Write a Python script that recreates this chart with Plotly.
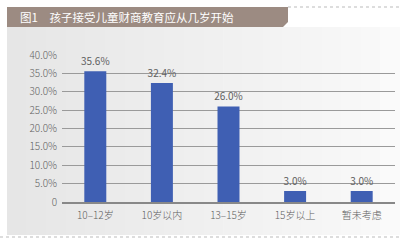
import plotly.graph_objects as go

categories = ["10–12岁", "10岁以内", "13–15岁", "15岁以上", "暂未考虑"]
values = [35.6, 32.4, 26.0, 3.0, 3.0]
value_labels = ["35.6%", "32.4%", "26.0%", "3.0%", "3.0%"]
tick_vals = [0, 5, 10, 15, 20, 25, 30, 35, 40]
tick_text = ["0", "5.0%", "10.0%", "15.0%", "20.0%", "25.0%", "30.0%", "35.0%", "40.0%"]
title_text = "图1　孩子接受儿童财商教育应从几岁开始"

W, H = 400, 244
L, R, T, B = 62, 395, 55, 202

def px(x):
    return (x - L) / (R - L)

def py(y):
    return (B - y) / (B - T)

FONT = "Noto Sans CJK SC"
TXT = "#606060"

fig = go.Figure()
fig.add_trace(go.Bar(
    x=categories, y=values, width=0.33,
    marker=dict(color="#3f5fb3", line=dict(width=0)),
    text=value_labels, textposition="outside", constraintext="none",
    textfont=dict(size=10, color=TXT, family=FONT),
    cliponaxis=False,
))

shapes = []
n = 20
x0, x1 = 7, 400
for i in range(n):
    a = x0 + (x1 - x0) * i / n
    b = x0 + (x1 - x0) * (i + 1) / n
    t = i / (n - 1)
    c = int(230 + (250 - 230) * t)
    shapes.append(dict(type="rect", xref="paper", yref="paper", layer="below",
                       x0=px(a), x1=px(b) + 0.002, y0=py(235), y1=py(27),
                       fillcolor=f"rgb({c},{c},{c})", line=dict(width=0)))
path = (f"M {px(7)},{py(7)} L {px(288)},{py(7)} L {px(288)},{py(22)} "
        f"L {px(283)},{py(27)} L {px(7)},{py(27)} Z")
shapes.append(dict(type="path", xref="paper", yref="paper", path=path,
                   fillcolor="#9c8b82", line=dict(width=0), layer="below"))
shapes.append(dict(type="line", xref="paper", yref="paper", x0=px(288), x1=px(400),
                   y0=py(7), y1=py(7), line=dict(color="#bbbbbb", width=1, dash="dot")))
shapes.append(dict(type="line", xref="paper", yref="paper", x0=px(0), x1=px(400),
                   y0=py(237), y1=py(237), line=dict(color="#bbbbbb", width=1, dash="dot")))

fig.update_layout(
    width=W, height=H,
    margin=dict(l=L, r=W - R, t=T, b=H - B),
    paper_bgcolor="white", plot_bgcolor="rgba(0,0,0,0)",
    showlegend=False, shapes=shapes,
    font=dict(family=FONT, color=TXT, size=10),
    annotations=[dict(text=title_text, xref="paper", yref="paper",
                      x=px(18), y=py(17), xanchor="left", yanchor="middle",
                      showarrow=False, font=dict(size=11.5, color="white", family=FONT))],
)
fig.update_xaxes(range=[-0.5, 4.5], showline=True, linecolor="#888888", linewidth=1.5,
                 ticks="", ticklabelstandoff=3,
                 tickfont=dict(size=10, color=TXT, weight=300), showgrid=False)
fig.update_yaxes(range=[0, 40], tickvals=tick_vals, ticktext=tick_text,
                 showgrid=True, gridcolor="#9a9a9a", gridwidth=1, zeroline=False,
                 ticks="", ticklabelstandoff=4, tickfont=dict(size=10, color=TXT, weight=300))

fig.write_html("out.html")
